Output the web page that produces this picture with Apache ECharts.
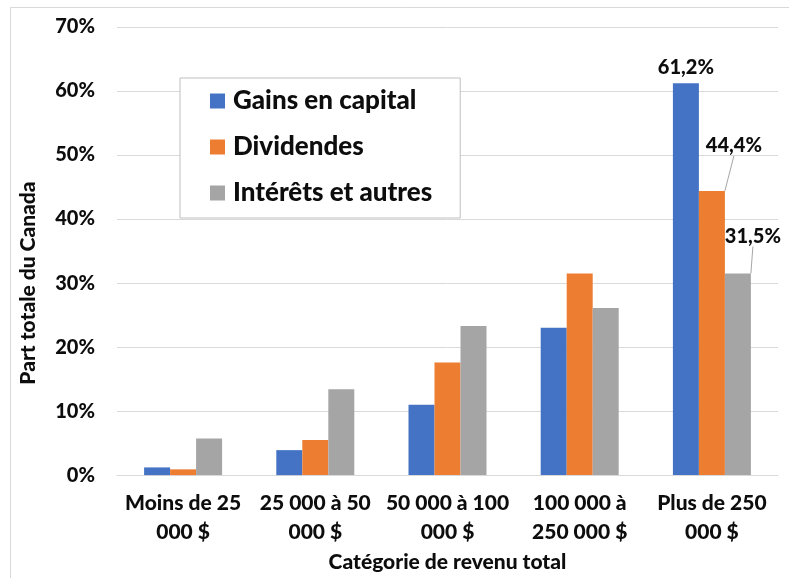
<!DOCTYPE html>
<html>
<head>
<meta charset="utf-8">
<script src="https://cdn.jsdelivr.net/npm/echarts@6/dist/echarts.min.js"></script>
<style>
html,body{margin:0;padding:0;background:#fff;}
#chart{width:789px;height:578px;}
</style>
</head>
<body>
<div id="chart"></div>
<script>
var categories = ['Moins de 25\n000 $', '25 000 à 50\n000 $', '50 000 à 100\n000 $', '100 000 à\n250 000 $', 'Plus de 250\n000 $'];
var gainsCapital = [1.2, 3.9, 11.0, 23.0, 61.2];
var dividendes = [0.9, 5.5, 17.6, 31.5, 44.4];
var interets = [5.7, 13.4, 23.3, 26.1, 31.5];
var yTicks = { min: 0, max: 70, interval: 10 };
var seriesNames = ['Gains en capital', 'Dividendes', 'Intérêts et autres'];
var colors = ['#4472C4', '#ED7D31', '#A5A5A5'];
var labelOffsets = [[0, 0], [22, -29], [15, -21]];

var FONT = 'Lato';
var W = 900;
var TXT = '#0d0d0d';

function fmt(v) { return v.toFixed(1).replace('.', ',') + '%'; }

function buildData(arr) {
  return arr.map(function (v, i) {
    return {
      value: v,
      label: { show: i === arr.length - 1 }
    };
  });
}

var allData = [gainsCapital, dividendes, interets];

var series = allData.map(function (arr, si) {
  return {
    name: seriesNames[si],
    type: 'bar',
    barGap: '0%',
    barCategoryGap: '41%',
    data: buildData(arr),
    itemStyle: { color: colors[si] },
    label: {
      show: false,
      position: 'top',
      distance: 6,
      formatter: function (p) { return fmt(p.value); },
      fontFamily: FONT, fontWeight: W, fontSize: 20, color: TXT
    },
    labelLine: {
      show: si > 0,
      lineStyle: { color: '#a6a6a6', width: 1 }
    },
    labelLayout: function (p) {
      return { dx: labelOffsets[si][0], dy: labelOffsets[si][1] };
    }
  };
});

var chart = echarts.init(document.getElementById('chart'));
chart.setOption({
  animation: false,
  backgroundColor: '#fff',
  textStyle: { fontFamily: FONT },
  graphic: [{
    type: 'rect',
    silent: true,
    shape: { x: 10.5, y: 7.5, width: 900, height: 700 },
    style: { fill: 'none', stroke: '#d9d9d9', lineWidth: 1 },
    z: -10
  }],
  grid: { left: 117, right: 11, top: 27, bottom: 98 },
  legend: {
    orient: 'vertical',
    left: 180,
    top: 78,
    padding: [10, 28, 12, 30],
    itemGap: 20,
    itemWidth: 15,
    itemHeight: 15,
    icon: 'rect',
    backgroundColor: '#fff',
    borderColor: '#bfbfbf',
    borderWidth: 1,
    borderRadius: 0,
    textStyle: { fontFamily: FONT, fontWeight: W, fontSize: 26, color: TXT, padding: [0, 0, 0, 3], lineHeight: 26 },
    data: seriesNames
  },
  xAxis: {
    type: 'category',
    data: categories,
    name: 'Catégorie de revenu total',
    nameLocation: 'middle',
    nameGap: 72,
    nameTextStyle: { fontFamily: FONT, fontWeight: W, fontSize: 21, color: TXT },
    axisLine: { lineStyle: { color: '#d9d9d9', width: 1 } },
    axisTick: { show: false },
    axisLabel: { margin: 14, fontFamily: FONT, fontWeight: W, fontSize: 21, lineHeight: 29, color: TXT, interval: 0 }
  },
  yAxis: {
    type: 'value',
    min: yTicks.min,
    max: yTicks.max,
    interval: yTicks.interval,
    name: 'Part totale du Canada',
    nameLocation: 'middle',
    nameGap: 78,
    nameRotate: 90,
    nameTextStyle: { fontFamily: FONT, fontWeight: W, fontSize: 21, color: TXT, padding: [0, 64, 0, 0] },
    axisLine: { show: false },
    axisTick: { show: false },
    splitLine: { lineStyle: { color: '#d9d9d9', width: 1 } },
    axisLabel: { margin: 22, fontFamily: FONT, fontWeight: W, fontSize: 20, color: TXT, formatter: '{value}%' }
  },
  series: series
});
</script>
</body>
</html>
